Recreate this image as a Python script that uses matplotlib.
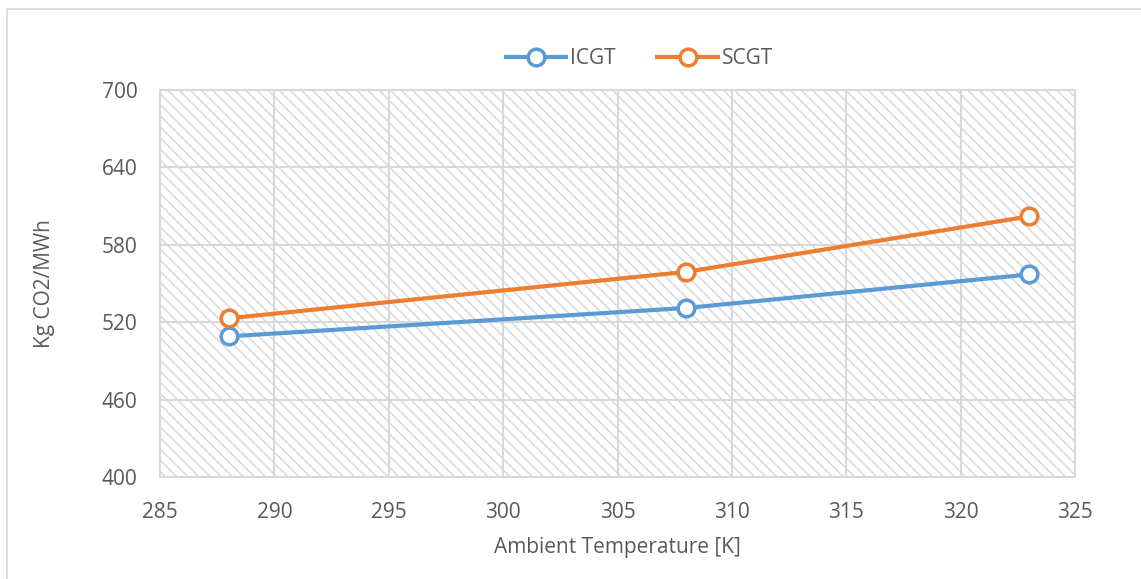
import matplotlib.pyplot as plt
from matplotlib.patches import Rectangle

# data
temps = [288, 308, 323]
icgt = [509, 531, 557]
scgt = [523, 559, 602]
xticks = [285, 290, 295, 300, 305, 310, 315, 320, 325]
yticks = [400, 460, 520, 580, 640, 700]

plt.rcParams['font.family'] = ['Open Sans', 'DejaVu Sans']
plt.rcParams['hatch.color'] = '#d9d9d9'
plt.rcParams['hatch.linewidth'] = 1.1

fig = plt.figure(figsize=(11.41, 5.79), dpi=100)
ax = fig.add_axes([0.1402, 0.1762, 0.802, 0.6684])

# outer chart border
fig.patches.append(Rectangle((7 / 1141, -0.1), 1.2, 1 - 9 / 579 + 0.1, transform=fig.transFigure,
                             fill=False, edgecolor='#d9d9d9', lw=1.2, zorder=0))

# hatched plot area
ax.add_patch(Rectangle((0, 0), 1, 1, transform=ax.transAxes, facecolor='white',
                       hatch='\\' * 3, edgecolor='#d9d9d9', lw=0, zorder=0))

ax.plot(temps, icgt, color='#5B9BD5', lw=3, marker='o', ms=12, mfc='white',
        mec='#5B9BD5', mew=2.5, label='ICGT', zorder=3)
ax.plot(temps, scgt, color='#ED7D31', lw=3, marker='o', ms=12, mfc='white',
        mec='#ED7D31', mew=2.5, label='SCGT', zorder=3)

ax.set_xlim(285, 325)
ax.set_ylim(400, 700)
ax.set_xticks(xticks)
ax.set_yticks(yticks)
ax.grid(True, color='#d9d9d9', lw=1.5, zorder=1)
for s in ax.spines.values():
    s.set_color('#d9d9d9')
    s.set_linewidth(1.5)
ax.tick_params(axis='y', length=0, labelsize=15, labelcolor='#595959', pad=16)
ax.tick_params(axis='x', length=0, labelsize=15, labelcolor='#595959', pad=18)

ax.set_xlabel('Ambient Temperature [K]', fontsize=15, color='#595959', labelpad=10)
ax.set_ylabel('Kg CO2/MWh', fontsize=15, color='#595959', labelpad=34)

ax.legend(loc='lower center', bbox_to_anchor=(0.524, 1.0), ncol=2, frameon=False,
          fontsize=15, labelcolor='#595959', handlelength=2.9, columnspacing=2.0,
          handletextpad=0.2, borderaxespad=0.6)

fig.savefig('out.png', dpi=100)
